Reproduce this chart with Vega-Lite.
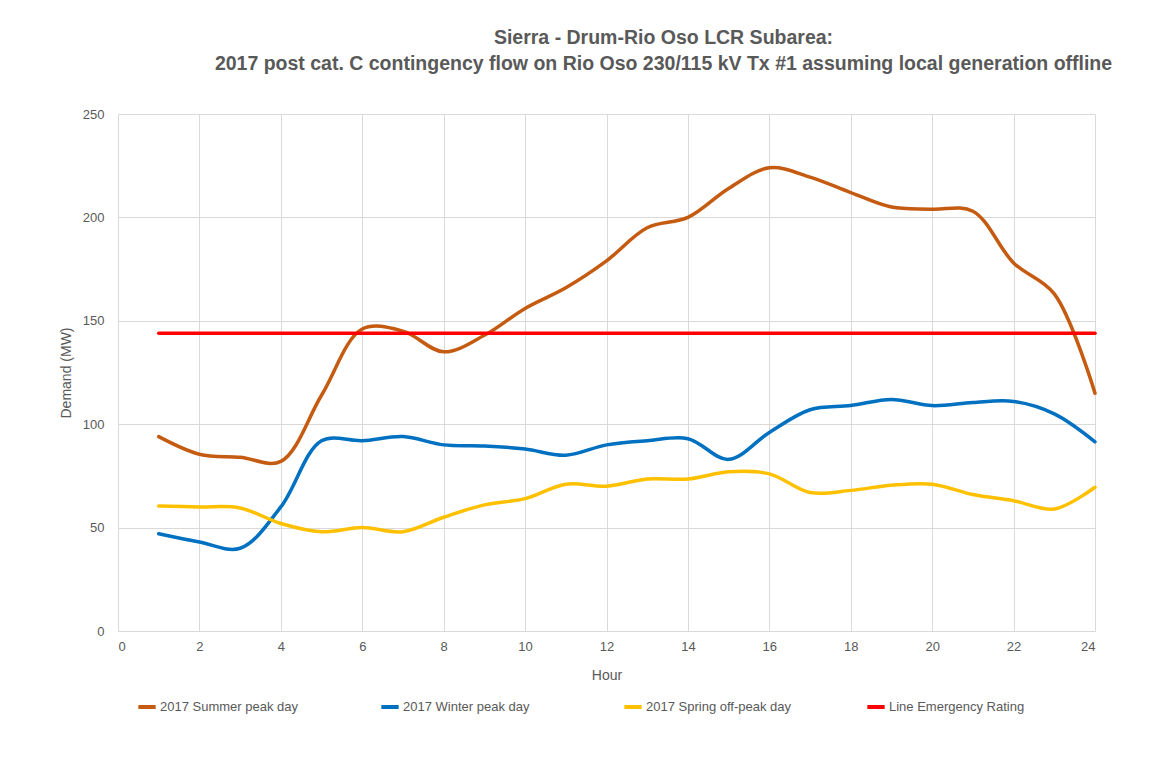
{
  "$schema": "https://vega.github.io/schema/vega-lite/v6.json",
  "width": 977,
  "height": 517,
  "autosize": {"type": "none"},
  "padding": {"left": 118, "top": 114, "right": 67, "bottom": 139},
  "background": "white",
  "title": {
    "text": ["Sierra - Drum-Rio Oso LCR Subarea:", "2017 post cat. C contingency flow on Rio Oso 230/115 kV Tx #1 assuming local generation offline"],
    "anchor": "middle",
    "dx": 57,
    "offset": 34,
    "fontSize": 19.5,
    "font": "Liberation Sans",
    "fontWeight": "bold",
    "color": "#595959",
    "lineHeight": 26
  },
  "config": {
    "view": {"stroke": null},
    "axis": {
      "gridColor": "#d9d9d9",
      "gridWidth": 1,
      "labelColor": "#595959",
      "labelFont": "Liberation Sans",
      "labelFontSize": 13,
      "titleColor": "#595959",
      "titleFont": "Liberation Sans",
      "titleFontSize": 14,
      "titleFontWeight": "normal",
      "ticks": false
    },
    "legend": {
      "labelFont": "Liberation Sans",
      "labelFontSize": 13,
      "labelColor": "#595959"
    }
  },
  "data": {
    "values": [
      {"hour": 1, "series": "2017 Summer peak day", "mw": 94},
      {"hour": 2, "series": "2017 Summer peak day", "mw": 85.5},
      {"hour": 3, "series": "2017 Summer peak day", "mw": 84},
      {"hour": 4, "series": "2017 Summer peak day", "mw": 82},
      {"hour": 5, "series": "2017 Summer peak day", "mw": 114},
      {"hour": 6, "series": "2017 Summer peak day", "mw": 146},
      {"hour": 7, "series": "2017 Summer peak day", "mw": 145},
      {"hour": 8, "series": "2017 Summer peak day", "mw": 135},
      {"hour": 9, "series": "2017 Summer peak day", "mw": 143},
      {"hour": 10, "series": "2017 Summer peak day", "mw": 156},
      {"hour": 11, "series": "2017 Summer peak day", "mw": 166},
      {"hour": 12, "series": "2017 Summer peak day", "mw": 179},
      {"hour": 13, "series": "2017 Summer peak day", "mw": 195},
      {"hour": 14, "series": "2017 Summer peak day", "mw": 200},
      {"hour": 15, "series": "2017 Summer peak day", "mw": 214},
      {"hour": 16, "series": "2017 Summer peak day", "mw": 224},
      {"hour": 17, "series": "2017 Summer peak day", "mw": 219.5},
      {"hour": 18, "series": "2017 Summer peak day", "mw": 212},
      {"hour": 19, "series": "2017 Summer peak day", "mw": 205},
      {"hour": 20, "series": "2017 Summer peak day", "mw": 204},
      {"hour": 21, "series": "2017 Summer peak day", "mw": 203},
      {"hour": 22, "series": "2017 Summer peak day", "mw": 178},
      {"hour": 23, "series": "2017 Summer peak day", "mw": 163},
      {"hour": 24, "series": "2017 Summer peak day", "mw": 115},
      {"hour": 1, "series": "2017 Winter peak day", "mw": 47},
      {"hour": 2, "series": "2017 Winter peak day", "mw": 43},
      {"hour": 3, "series": "2017 Winter peak day", "mw": 40},
      {"hour": 4, "series": "2017 Winter peak day", "mw": 60},
      {"hour": 5, "series": "2017 Winter peak day", "mw": 92},
      {"hour": 6, "series": "2017 Winter peak day", "mw": 92},
      {"hour": 7, "series": "2017 Winter peak day", "mw": 94},
      {"hour": 8, "series": "2017 Winter peak day", "mw": 90},
      {"hour": 9, "series": "2017 Winter peak day", "mw": 89.5},
      {"hour": 10, "series": "2017 Winter peak day", "mw": 88},
      {"hour": 11, "series": "2017 Winter peak day", "mw": 85},
      {"hour": 12, "series": "2017 Winter peak day", "mw": 90},
      {"hour": 13, "series": "2017 Winter peak day", "mw": 92},
      {"hour": 14, "series": "2017 Winter peak day", "mw": 93},
      {"hour": 15, "series": "2017 Winter peak day", "mw": 83},
      {"hour": 16, "series": "2017 Winter peak day", "mw": 96},
      {"hour": 17, "series": "2017 Winter peak day", "mw": 107},
      {"hour": 18, "series": "2017 Winter peak day", "mw": 109},
      {"hour": 19, "series": "2017 Winter peak day", "mw": 112},
      {"hour": 20, "series": "2017 Winter peak day", "mw": 109},
      {"hour": 21, "series": "2017 Winter peak day", "mw": 110.5},
      {"hour": 22, "series": "2017 Winter peak day", "mw": 111},
      {"hour": 23, "series": "2017 Winter peak day", "mw": 105},
      {"hour": 24, "series": "2017 Winter peak day", "mw": 91.5},
      {"hour": 1, "series": "2017 Spring off-peak day", "mw": 60.4},
      {"hour": 2, "series": "2017 Spring off-peak day", "mw": 60},
      {"hour": 3, "series": "2017 Spring off-peak day", "mw": 59.5},
      {"hour": 4, "series": "2017 Spring off-peak day", "mw": 52},
      {"hour": 5, "series": "2017 Spring off-peak day", "mw": 48},
      {"hour": 6, "series": "2017 Spring off-peak day", "mw": 50},
      {"hour": 7, "series": "2017 Spring off-peak day", "mw": 48},
      {"hour": 8, "series": "2017 Spring off-peak day", "mw": 55},
      {"hour": 9, "series": "2017 Spring off-peak day", "mw": 61},
      {"hour": 10, "series": "2017 Spring off-peak day", "mw": 64},
      {"hour": 11, "series": "2017 Spring off-peak day", "mw": 71},
      {"hour": 12, "series": "2017 Spring off-peak day", "mw": 70},
      {"hour": 13, "series": "2017 Spring off-peak day", "mw": 73.5},
      {"hour": 14, "series": "2017 Spring off-peak day", "mw": 73.5},
      {"hour": 15, "series": "2017 Spring off-peak day", "mw": 77},
      {"hour": 16, "series": "2017 Spring off-peak day", "mw": 76},
      {"hour": 17, "series": "2017 Spring off-peak day", "mw": 67},
      {"hour": 18, "series": "2017 Spring off-peak day", "mw": 68},
      {"hour": 19, "series": "2017 Spring off-peak day", "mw": 70.5},
      {"hour": 20, "series": "2017 Spring off-peak day", "mw": 71},
      {"hour": 21, "series": "2017 Spring off-peak day", "mw": 66},
      {"hour": 22, "series": "2017 Spring off-peak day", "mw": 63},
      {"hour": 23, "series": "2017 Spring off-peak day", "mw": 59},
      {"hour": 24, "series": "2017 Spring off-peak day", "mw": 69.5},
      {"hour": 1, "series": "Line Emergency Rating", "mw": 144},
      {"hour": 24, "series": "Line Emergency Rating", "mw": 144}
    ]
  },
  "mark": {"type": "line", "interpolate": "catmull-rom", "strokeWidth": 3.5, "strokeCap": "round"},
  "encoding": {
    "x": {
      "field": "hour",
      "type": "quantitative",
      "title": "Hour",
      "scale": {"domain": [0, 24], "nice": false},
      "axis": {"values": [0, 2, 4, 6, 8, 10, 12, 14, 16, 18, 20, 22, 24], "domainColor": "#d9d9d9", "labelPadding": 9, "titlePadding": 15}
    },
    "y": {
      "field": "mw",
      "type": "quantitative",
      "title": "Demand (MW)",
      "scale": {"domain": [0, 250], "nice": false},
      "axis": {"values": [0, 50, 100, 150, 200, 250], "domain": false, "labelPadding": 14, "titlePadding": 9}
    },
    "color": {
      "field": "series",
      "type": "nominal",
      "sort": null,
      "scale": {
        "domain": ["2017 Summer peak day", "2017 Winter peak day", "2017 Spring off-peak day", "Line Emergency Rating"],
        "range": ["#C55A11", "#0070C0", "#FFC000", "#FF0000"]
      },
      "legend": {
        "title": null,
        "orient": "none",
        "legendX": 18,
        "legendY": 582,
        "direction": "horizontal",
        "columns": 4,
        "gridAlign": "all",
        "columnPadding": 67,
        "symbolType": "stroke",
        "symbolStrokeWidth": 4,
        "symbolSize": 300,
        "labelOffset": 2
      }
    }
  }
}
